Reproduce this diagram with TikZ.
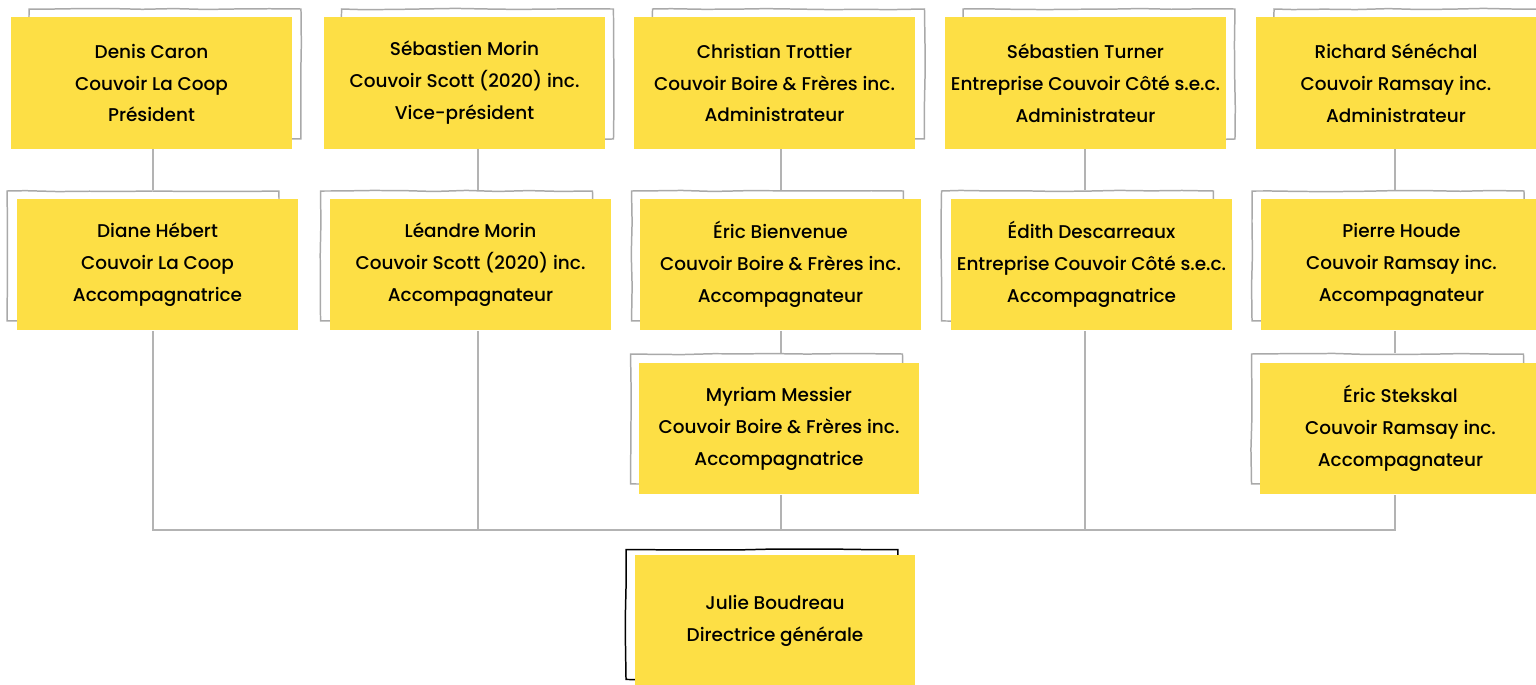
\documentclass[tikz,border=0pt]{standalone}
\usepackage{fontspec}
\newfontfamily\cardfont{Poppins Medium}
\usetikzlibrary{decorations.pathmorphing}

\definecolor{cardyellow}{HTML}{FDDF45}
\definecolor{sketchgray}{HTML}{A9A9A9}
\definecolor{linkgray}{HTML}{B3B3B3}

\tikzset{
  card/.style={fill=cardyellow, minimum width=5.62cm, minimum height=2.64cm,
    inner sep=0pt, align=center, font=\cardfont\fontsize{10.5}{18.2}\selectfont},
  sketch/.style={draw=sketchgray, line width=0.85pt, minimum width=5.44cm,
    minimum height=2.6cm, inner sep=0pt,
    decorate, decoration={random steps, segment length=18pt, amplitude=0.35pt}},
  link/.style={draw=linkgray, line width=1pt}
}

\begin{document}
\begin{tikzpicture}[x=0.02cm, y=-0.02cm]
\useasboundingbox (0,0) rectangle (1536,685);

% sketched frames behind the cards
\node[sketch] (denis-bk) at (165,74) {};
\node[sketch] (sebm-bk) at (477.5,74) {};
\node[sketch] (christian-bk) at (788.5,74) {};
\node[sketch] (sebt-bk) at (1099,74) {};
\node[sketch] (richard-bk) at (1410,74) {};
\node[sketch] (diane-bk) at (143,256) {};
\node[sketch] (leandre-bk) at (456.5,256) {};
\node[sketch] (ericb-bk) at (767.5,256) {};
\node[sketch] (edith-bk) at (1077.5,256) {};
\node[sketch] (pierre-bk) at (1388,256) {};
\node[sketch] (myriam-bk) at (766.5,419) {};
\node[sketch] (erics-bk) at (1387.5,419) {};
\node[sketch, draw=black] (julie-bk) at (762,614.5) {};

% conseil
\node[card] (denis) at (151.5,83) {Denis Caron\\Couvoir La Coop\\Président};
\node[card] (sebm) at (464.5,83) {Sébastien Morin\\Couvoir Scott (2020) inc.\\Vice-président};
\node[card] (christian) at (774.5,83) {Christian Trottier\\Couvoir Boire \& Frères inc.\\Administrateur};
\node[card] (sebt) at (1085.5,83) {Sébastien Turner\\Entreprise Couvoir Côté s.e.c.\\Administrateur};
\node[card] (richard) at (1396,83) {Richard Sénéchal\\Couvoir Ramsay inc.\\Administrateur};

% accompagnateurs
\node[card] (diane) at (157.5,264.5) {Diane Hébert\\Couvoir La Coop\\Accompagnatrice};
\node[card] (leandre) at (470.5,264.5) {Léandre Morin\\Couvoir Scott (2020) inc.\\Accompagnateur};
\node[card] (ericb) at (780.5,264.5) {Éric Bienvenue\\Couvoir Boire \& Frères inc.\\Accompagnateur};
\node[card] (edith) at (1091.5,264.5) {Édith Descarreaux\\Entreprise Couvoir Côté s.e.c.\\Accompagnatrice};
\node[card] (pierre) at (1401.5,264.5) {Pierre Houde\\Couvoir Ramsay inc.\\Accompagnateur};
\node[card] (myriam) at (779,428.5) {Myriam Messier\\Couvoir Boire \& Frères inc.\\Accompagnatrice};
\node[card] (erics) at (1400.5,428.5) {Éric Stekskal\\Couvoir Ramsay inc.\\Accompagnateur};

% direction
\node[card] (julie) at (775,621) {Julie Boudreau\\Directrice générale};

% liens
\coordinate (col1) at (153,0);
\coordinate (col2) at (478,0);
\coordinate (col3) at (781,0);
\coordinate (col4) at (1085,0);
\coordinate (col5) at (1395,0);
\coordinate (bus) at (0,530);

\draw[link] (col1 |- denis.south) -- (col1 |- diane-bk.north);
\draw[link] (col2 |- sebm.south) -- (col2 |- leandre-bk.north);
\draw[link] (col3 |- christian.south) -- (col3 |- ericb-bk.north);
\draw[link] (col4 |- sebt.south) -- (col4 |- edith-bk.north);
\draw[link] (col5 |- richard.south) -- (col5 |- pierre-bk.north);
\draw[link] (col3 |- ericb.south) -- (col3 |- myriam-bk.north);
\draw[link] (col5 |- pierre.south) -- (col5 |- erics-bk.north);

\draw[link] (col1 |- diane.south) |- (col5 |- bus) -- (col5 |- erics.south);
\draw[link] (col2 |- leandre.south) -- (col2 |- bus);
\draw[link] (col3 |- myriam.south) -- (col3 |- bus);
\draw[link] (col4 |- edith.south) -- (col4 |- bus);
\end{tikzpicture}
\end{document}
